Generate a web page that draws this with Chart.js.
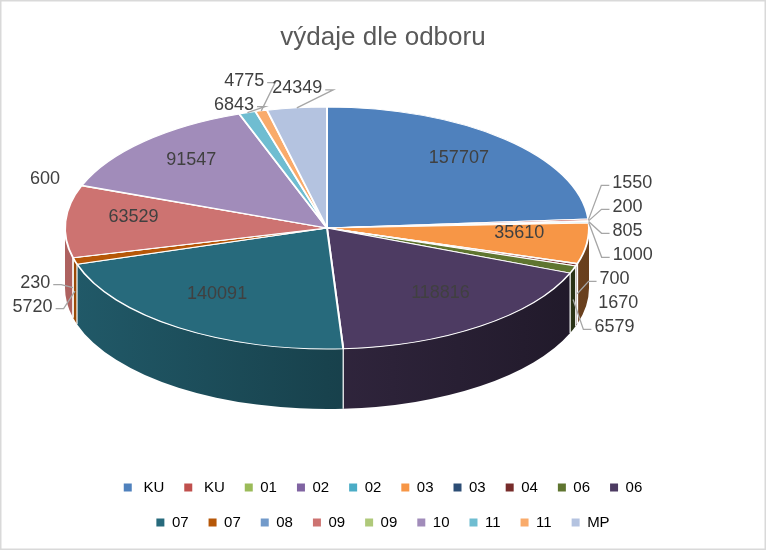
<!DOCTYPE html>
<html>
<head>
<meta charset="utf-8">
<title>výdaje dle odboru</title>
<script src="https://cdn.jsdelivr.net/npm/chart.js@4.4.0/dist/chart.umd.min.js"></script>
<style>
  body { margin: 0; background: #fff; }
</style>
</head>
<body>
<canvas id="myChart" width="766" height="550"></canvas>
<script>
const labels = [" KU", " KU", "01", "02", "02", "03", "03", "04", "06", "06", "07", "07", "08", "09", "09", "10", "11", "11", "MP"];
const values = [157707, 1550, 200, 805, 1000, 35610, 700, 1670, 6579, 118816, 140091, 5720, 230, 63529, 600, 91547, 6843, 4775, 24349];
const sliceColors = ["#4f81bd", "#c0504d", "#9bbb59", "#8064a2", "#4bacc6", "#f79646", "#2c4d75", "#772c2a", "#5f7530", "#4d3b62", "#276a7c", "#b65708", "#729aca", "#cd7371", "#afc97a", "#a18cba", "#6fbdd1", "#f9ab6b", "#b4c3e0"];

// where the tilted pie sits on the page
const CX = 327, CY = 228, RX = 262, RY = 121, DEPTH = 60;
const FONT = "'Liberation Sans', Arial, sans-serif";

function shade(hex, f) {
  const n = parseInt(hex.slice(1), 16);
  const r = Math.round(((n >> 16) & 255) * f);
  const g = Math.round(((n >> 8) & 255) * f);
  const b = Math.round((n & 255) * f);
  return "rgb(" + r + "," + g + "," + b + ")";
}

function drawWalls(chart) {
  const ctx = chart.ctx;
  const arcs = chart.getDatasetMeta(0).data;
  arcs.forEach((arc, i) => {
    const a1 = Math.max(arc.startAngle, 0);
    const a2 = Math.min(arc.endAngle, Math.PI);
    if (a2 <= a1) return;
    const g = ctx.createLinearGradient(CX - RX, 0, CX + RX, 0);
    g.addColorStop(0, shade(sliceColors[i], 0.85));
    g.addColorStop(0.5, shade(sliceColors[i], 0.62));
    g.addColorStop(1, shade(sliceColors[i], 0.42));
    ctx.beginPath();
    ctx.ellipse(CX, CY, RX, RY, 0, a1, a2);
    ctx.lineTo(CX + RX * Math.cos(a2), CY + DEPTH + RY * Math.sin(a2));
    ctx.ellipse(CX, CY + DEPTH, RX, RY, 0, a2, a1, true);
    ctx.closePath();
    ctx.fillStyle = g;
    ctx.fill();
  });
  // white seams between the slices on the side
  ctx.strokeStyle = "#fff";
  ctx.lineWidth = 1.2;
  arcs.forEach((arc) => {
    const a = arc.startAngle;
    if (a <= 0 || a >= Math.PI) return;
    ctx.beginPath();
    ctx.moveTo(CX + RX * Math.cos(a), CY + RY * Math.sin(a));
    ctx.lineTo(CX + RX * Math.cos(a), CY + DEPTH + RY * Math.sin(a));
    ctx.stroke();
  });
}

function drawLabels(chart) {
  const ctx = chart.ctx;
  const arcs = chart.getDatasetMeta(0).data;
  const total = values.reduce((a, b) => a + b, 0);
  ctx.save();
  ctx.font = "18px " + FONT;
  ctx.textAlign = "center";
  ctx.textBaseline = "middle";
  ctx.fillStyle = "#404040";
  const outside = [];
  arcs.forEach((arc, i) => {
    const mid = (arc.startAngle + arc.endAngle) / 2;
    const c = Math.cos(mid), s = Math.sin(mid);
    const text = String(values[i]);
    if (values[i] / total > 0.05) {
      ctx.fillText(text, CX + RX * 0.74 * c, CY + RY * 0.72 * s - 6);
      return;
    }
    const w = ctx.measureText(text).width, h = 24;
    const front = s > 0 ? DEPTH * 0.5 : 0;
    const ax = CX + RX * c, ay = CY + RY * s + front;
    const x = ax + c * (24 + w / 2), y = ay + s * (8 + h / 2);
    outside.push({ text, w, h, c, ax, ay, x, y, x0: x, y0: y });
  });

  // push overlapping labels apart, keeping their original order
  for (let it = 0; it < 300; it++) {
    for (let i = 0; i < outside.length; i++) {
      for (let j = i + 1; j < outside.length; j++) {
        const p = outside[i], q = outside[j];
        const ox = (p.w + q.w) / 2 + 8 - Math.abs(p.x - q.x);
        const oy = (p.h + q.h) / 2 - Math.abs(p.y - q.y);
        if (ox > 0 && oy > 0) {
          if (ox < oy) {
            const d = (p.x0 <= q.x0 ? -1 : 1) * ox / 2;
            p.x += d; q.x -= d;
          } else {
            const d = (p.y0 <= q.y0 ? -1 : 1) * oy / 2;
            p.y += d; q.y -= d;
          }
        }
      }
    }
  }

  ctx.strokeStyle = "#a6a6a6";
  ctx.lineWidth = 1.3;
  outside.forEach((p) => {
    if (Math.hypot(p.x - p.x0, p.y - p.y0) > 6) {
      const ex = p.c >= 0 ? p.x - p.w / 2 - 3 : p.x + p.w / 2 + 3;
      ctx.beginPath();
      ctx.moveTo(p.ax, p.ay);
      ctx.lineTo(p.c >= 0 ? ex - 8 : ex + 8, p.y + 2);
      ctx.lineTo(ex, p.y + 2);
      ctx.stroke();
    }
    ctx.fillText(p.text, p.x, p.y);
  });
  ctx.restore();
}

const pie3d = {
  id: "pie3d",
  beforeDatasetsDraw(chart) {
    const arc = chart.getDatasetMeta(0).data[0];
    drawWalls(chart);
    const ctx = chart.ctx;
    const s = RX / arc.outerRadius;
    ctx.save();
    ctx.translate(CX, CY);
    ctx.scale(s, s * RY / RX);
    ctx.translate(-arc.x, -arc.y);
  },
  afterDatasetsDraw(chart) {
    chart.ctx.restore();
    drawLabels(chart);
  },
  afterDraw(chart) {
    const ctx = chart.ctx;
    ctx.save();
    ctx.strokeStyle = "#d9d9d9";
    ctx.lineWidth = 1.5;
    ctx.strokeRect(0.75, 0.75, chart.width - 1.5, chart.height - 1.5);
    ctx.restore();
  }
};

new Chart("myChart", {
  type: "pie",
  data: {
    labels: labels,
    datasets: [
      {
        data: values,
        backgroundColor: sliceColors,
        borderColor: "#ffffff",
        borderWidth: 2,
        hoverOffset: 0,
        clip: false,
      },
    ],
  },
  options: {
    responsive: false,
    animation: false,
    events: [],
    radius: RX,
    layout: { padding: { top: 8, bottom: 10, left: 90, right: 90 } },
    plugins: {
      title: {
        display: true,
        text: "výdaje dle odboru",
        color: "#595959",
        font: { family: FONT, size: 26, weight: "normal" },
        padding: { top: 14, bottom: 10 },
      },
      legend: {
        position: "bottom",
        labels: {
          boxWidth: 8,
          boxHeight: 8,
          padding: 20,
          color: "#595959",
          font: { family: FONT, size: 15 },
          generateLabels: () =>
            labels.map((text, i) => ({
              text: text,
              fillStyle: sliceColors[i],
              strokeStyle: sliceColors[i],
              lineWidth: 0,
              hidden: false,
              index: i,
            })),
        },
      },
      tooltip: { enabled: false },
    },
  },
  plugins: [pie3d],
});
</script>
</body>
</html>
